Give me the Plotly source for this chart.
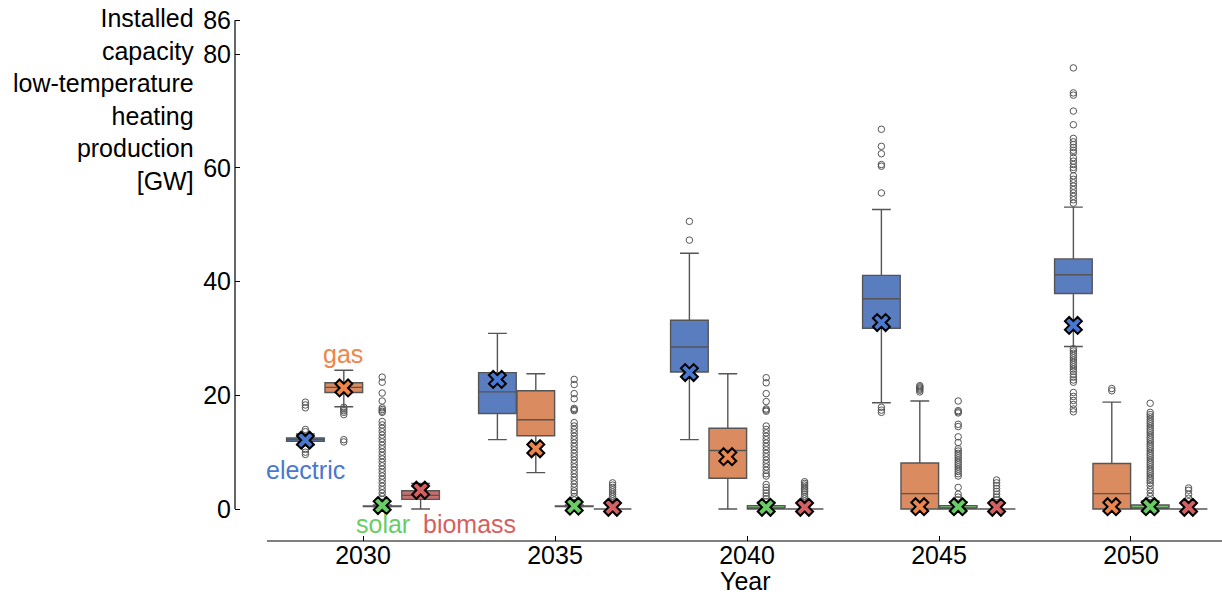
import plotly.graph_objects as go

# ---------------- data ----------------
years = ["2030", "2035", "2040", "2045", "2050"]
series = ["electric", "gas", "solar", "biomass"]

electric_q1 = [11.9, 16.8, 24.1, 31.8, 37.9]
electric_med = [12.2, 20.6, 28.5, 37.0, 41.2]
electric_q3 = [12.5, 24.0, 33.2, 41.1, 44.0]
electric_lo = [11.3, 12.2, 12.2, 18.7, 28.6]
electric_hi = [13.2, 30.9, 45.0, 52.7, 53.1]
electric_mark = [12.1, 22.8, 24.0, 32.8, 32.3]
electric_out = [
    [18.8, 18.3, 17.8, 14.0, 13.6, 10.5, 10.0, 9.6],
    [],
    [50.6, 47.3],
    [66.8, 63.8, 62.5, 60.6, 60.3, 55.6, 17.9, 17.4, 17.0],
    [86.4, 77.6, 73.2, 72.8, 70.0, 67.6, 65.2, 64.6, 64.1, 63.6, 63.1, 62.7,
     61.8, 61.2, 60.6, 60.1, 59.7, 58.6, 58.0, 57.4, 56.8, 56.2, 55.6, 55.0,
     54.4, 53.8, 28.2, 27.8, 27.4, 27.0, 26.6, 26.2, 25.8, 25.4, 25.0, 24.6,
     24.2, 23.7, 23.2, 22.7, 22.3, 20.5, 19.8, 19.1, 18.4, 17.6, 17.1],
]

gas_q1 = [20.5, 12.9, 5.4, 0.0, 0.0]
gas_med = [21.4, 15.7, 10.3, 2.7, 2.7]
gas_q3 = [22.2, 20.8, 14.2, 8.1, 8.0]
gas_lo = [18.0, 6.4, 0.0, 0.0, 0.0]
gas_hi = [24.4, 23.8, 23.8, 19.0, 18.8]
gas_mark = [21.3, 10.6, 9.2, 0.4, 0.4]
gas_out = [
    [17.9, 17.6, 17.3, 17.0, 16.6, 12.2, 11.8],
    [],
    [],
    [21.7, 21.5, 21.3, 21.1, 20.9, 20.6],
    [21.2, 20.8],
]

solar_q1 = [0.45, 0.45, 0.0, 0.0, 0.0]
solar_med = [0.5, 0.5, 0.1, 0.1, 0.1]
solar_q3 = [0.55, 0.55, 0.6, 0.6, 0.7]
solar_lo = [0.4, 0.4, 0.0, 0.0, 0.0]
solar_hi = [0.7, 0.7, 1.2, 1.3, 1.4]
solar_mark = [0.6, 0.5, 0.3, 0.4, 0.4]
solar_out = [
    [23.2, 22.3, 20.4, 19.0, 17.8, 17.5, 17.2, 17.0, 15.4, 14.8, 14.2, 13.6,
     13.0, 12.4, 11.8, 11.2, 10.6, 10.0, 9.4, 8.8, 8.2, 7.6, 7.0, 6.4, 5.8,
     5.2, 4.6, 4.0, 3.4, 2.8, 2.2, 1.7, 1.2],
    [22.8, 21.9, 20.3, 19.4, 17.7, 17.5, 17.3, 15.2, 14.6, 14.0, 13.4, 12.8,
     12.2, 11.6, 11.0, 10.4, 9.8, 9.2, 8.6, 8.0, 7.4, 6.8, 6.2, 5.6, 5.0,
     4.4, 3.8, 3.2, 2.8, 2.2, 1.6, 1.1],
    [23.1, 22.2, 20.3, 18.9, 17.6, 17.4, 17.2, 14.6, 14.0, 13.4, 12.8, 12.2,
     11.6, 11.0, 10.4, 9.8, 9.2, 8.6, 8.0, 7.4, 6.8, 6.2, 5.8, 4.3, 3.8,
     3.3, 2.8, 2.3, 1.8, 1.3],
    [19.0, 17.3, 17.1, 16.9, 14.9, 14.5, 12.7, 11.7, 10.6, 10.2, 9.8, 9.4,
     9.0, 8.6, 8.2, 7.8, 7.4, 7.0, 6.6, 6.2, 5.8, 3.8, 2.6, 2.1, 1.6],
    [18.6, 17.0, 16.6, 16.2, 15.8, 15.4, 15.0, 14.6, 14.2, 13.8, 13.4, 13.0,
     12.6, 12.2, 11.8, 11.4, 11.0, 10.6, 10.2, 9.8, 9.4, 9.0, 8.6, 8.2, 7.8,
     7.4, 7.0, 6.6, 6.2, 5.8, 5.4, 5.0, 4.6, 4.1, 3.4, 2.8, 2.2, 1.6, 1.1],
]

biomass_q1 = [1.7, 0.0, 0.0, 0.0, 0.0]
biomass_med = [2.4, 0.0, 0.0, 0.0, 0.0]
biomass_q3 = [3.2, 0.0, 0.0, 0.0, 0.0]
biomass_lo = [0.0, 0.0, 0.0, 0.0, 0.0]
biomass_hi = [4.5, 0.0, 0.0, 0.0, 0.0]
biomass_mark = [3.3, 0.3, 0.3, 0.3, 0.3]
biomass_out = [
    [],
    [4.6, 4.2, 3.8, 3.4, 3.0, 2.6, 2.2, 1.8, 1.4, 1.0, 0.6],
    [4.8, 4.5, 4.2, 3.9, 3.6, 3.3, 3.0, 2.6, 2.2, 1.8, 1.4, 1.0, 0.6],
    [5.1, 4.6, 4.1, 3.6, 3.1, 2.6, 2.1, 1.6, 1.1, 0.7],
    [3.7, 3.3, 2.6, 1.9, 1.3, 0.8],
]

y_tick_vals = [0, 20, 40, 60, 80, 86]

# ---------------- style ----------------
box_fill = {"electric": "#597dbf", "gas": "#da8b5f", "solar": "#76bf71", "biomass": "#c76e6e"}
mark_col = {"electric": "#4878d0", "gas": "#ee854a", "solar": "#6acc64", "biomass": "#d65f5f"}
offsets = {"electric": -0.3, "gas": -0.1, "solar": 0.1, "biomass": 0.3}
FONT = "Liberation Sans, Arial, sans-serif"
FS = 25
edge = "#555555"

stats = {
    "electric": (electric_q1, electric_med, electric_q3, electric_lo, electric_hi, electric_mark, electric_out),
    "gas": (gas_q1, gas_med, gas_q3, gas_lo, gas_hi, gas_mark, gas_out),
    "solar": (solar_q1, solar_med, solar_q3, solar_lo, solar_hi, solar_mark, solar_out),
    "biomass": (biomass_q1, biomass_med, biomass_q3, biomass_lo, biomass_hi, biomass_mark, biomass_out),
}

fig = go.Figure()
for s in series:
    q1, med, q3, lo, hi, mk, out = stats[s]
    xs = [i + offsets[s] for i in range(len(years))]
    fig.add_trace(go.Box(
        x=xs, q1=q1, median=med, q3=q3, lowerfence=lo, upperfence=hi,
        width=0.196, whiskerwidth=0.5, fillcolor=box_fill[s],
        line=dict(color=edge, width=1.4), boxpoints=False, name=s,
        showlegend=False, hoverinfo="skip",
    ))

for s in series:
    out = stats[s][6]
    ox, oy = [], []
    for i, vals in enumerate(out):
        for v in vals:
            ox.append(i + offsets[s])
            oy.append(v)
    fig.add_trace(go.Scatter(
        x=ox, y=oy, mode="markers", showlegend=False, hoverinfo="skip",
        marker=dict(symbol="circle-open", size=6.5, color=edge, line=dict(width=1, color=edge)),
    ))

for s in series:
    mk = stats[s][5]
    xs = [i + offsets[s] for i in range(len(years))]
    fig.add_trace(go.Scatter(
        x=xs, y=mk, mode="markers", showlegend=False, hoverinfo="skip", cliponaxis=False,
        marker=dict(symbol="x", size=15, color=mark_col[s], line=dict(width=2, color="black")),
    ))

# geometry (page pixels; the page body margin is removed below)
W, H = 1222, 597
PPU = 489.0 / 86.0          # pixels per GW
Y0 = 509.0                  # page y of value 0
PB = 541                    # plot bottom
L = 235                     # plot left (y spine)
PR = 1222                   # plot right
y_hi = 86.2
y_lo = -(PB - Y0) / PPU
T = Y0 - y_hi * PPU
R = W - PR
B = H - PB
x_lo, x_hi = -0.6667, 4.474

def py(v):
    return (v - y_lo) / (y_hi - y_lo)

def px(v):
    return (v - x_lo) / (x_hi - x_lo)

def paper_x(page_px):
    return (page_px - L) / (PR - L)

def paper_y(page_py):
    return (PB - page_py) / (PB - T)

shapes = [
    dict(type="line", xref="paper", yref="paper", x0=px(-0.5), x1=1.0, y0=0, y1=0,
         line=dict(color="black", width=1.2)),
    dict(type="line", xref="paper", yref="paper", x0=0, x1=0, y0=py(0), y1=py(86),
         line=dict(color="black", width=1.2)),
]

annotations = [
    dict(text="electric", x=-0.297, y=6.9, xref="x", yref="y", showarrow=False,
         font=dict(size=FS, color=mark_col["electric"], family=FONT)),
    dict(text="gas", x=-0.104, y=27.2, xref="x", yref="y", showarrow=False,
         font=dict(size=FS, color=mark_col["gas"], family=FONT)),
    dict(text="solar", x=0.104, y=-2.64, xref="x", yref="y", showarrow=False,
         font=dict(size=FS, color=mark_col["solar"], family=FONT)),
    dict(text="biomass", x=0.557, y=-2.64, xref="x", yref="y", showarrow=False,
         font=dict(size=FS, color=mark_col["biomass"], family=FONT)),
    dict(text="Installed<br>capacity<br>low-temperature<br>heating<br>production<br>[GW]",
         x=paper_x(196), y=paper_y(99), xref="paper", yref="paper",
         xanchor="right", yanchor="middle", align="right", showarrow=False,
         font=dict(size=FS, color="black", family=FONT)),
    dict(text="Year", x=paper_x(745), y=paper_y(581),
         xref="paper", yref="paper", xanchor="center", yanchor="middle", showarrow=False,
         font=dict(size=FS, color="black", family=FONT)),
]

fig.update_layout(
    width=W, height=H, margin=dict(l=L, r=R, t=T, b=B),
    paper_bgcolor="white", plot_bgcolor="white", boxmode="overlay",
    shapes=shapes, annotations=annotations,
    font=dict(family=FONT, size=FS, color="black"),
    xaxis=dict(range=[x_lo, x_hi], tickvals=list(range(len(years))), ticktext=years,
               ticks="inside", ticklen=5, tickcolor="black", tickwidth=1,
               ticklabelstandoff=-3,
               showgrid=False, zeroline=False, showline=False, automargin=False,
               tickfont=dict(size=FS, family=FONT, color="black")),
    yaxis=dict(range=[y_lo, y_hi], tickvals=y_tick_vals, ticktext=[str(v) for v in y_tick_vals],
               ticks="inside", ticklen=5, tickcolor="black", tickwidth=1,
               ticklabelstandoff=3,
               showgrid=False, zeroline=False, showline=False, automargin=False,
               tickfont=dict(size=FS, family=FONT, color="black")),
)

fig.write_html("out.html", config={"displayModeBar": False},
               post_script="document.body.style.margin='0';")
